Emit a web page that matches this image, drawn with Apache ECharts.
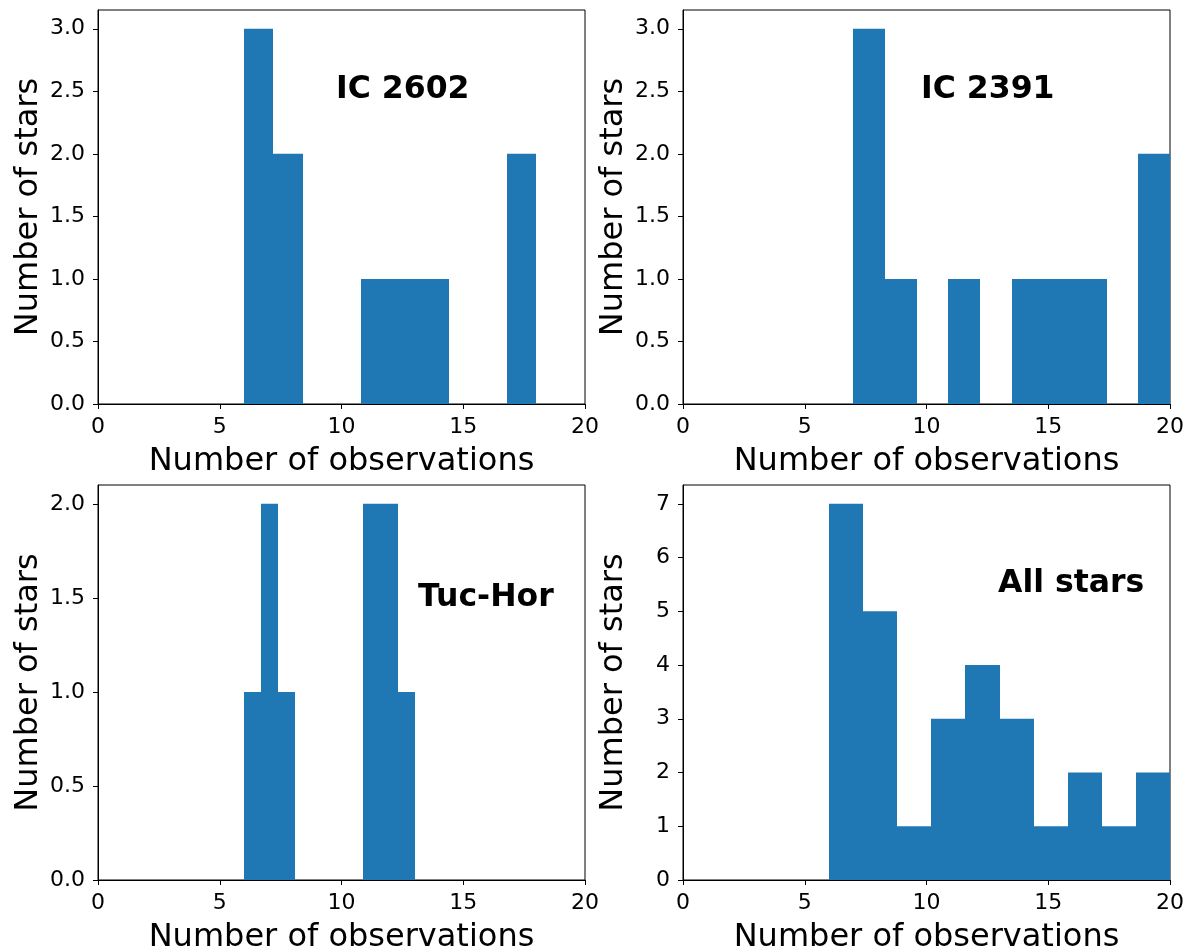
<!DOCTYPE html>
<html>
<head>
<meta charset="utf-8">
<script src="https://cdn.jsdelivr.net/npm/echarts@6/dist/echarts.min.js"></script>
<style>
  html, body { margin: 0; padding: 0; background: #fff; }
  #chart { width: 1188px; height: 952px; }
</style>
</head>
<body>
<div id="chart"></div>
<script>
// histogram bin edges and counts per panel
const ic2602Edges = [6, 7.2, 8.4, 9.6, 10.8, 12, 13.2, 14.4, 15.6, 16.8, 18]
const ic2602Counts = [3, 2, 0, 0, 1, 1, 1, 0, 0, 2]
const ic2391Edges = [7, 8.3, 9.6, 10.9, 12.2, 13.5, 14.8, 16.1, 17.4, 18.7, 20]
const ic2391Counts = [3, 1, 0, 1, 0, 1, 1, 1, 0, 2]
const tucHorEdges = [6, 6.7, 7.4, 8.1, 8.8, 9.5, 10.2, 10.9, 11.6, 12.3, 13]
const tucHorCounts = [1, 2, 1, 0, 0, 0, 0, 2, 2, 1]
const allEdges = [6, 7.4, 8.8, 10.2, 11.6, 13, 14.4, 15.8, 17.2, 18.6, 20]
const allCounts = [7, 5, 1, 3, 4, 3, 1, 2, 1, 2]

const xTicks = [0, 5, 10, 15, 20]
const yTicks3 = [0, 0.5, 1, 1.5, 2, 2.5, 3]
const yTicks2 = [0, 0.5, 1, 1.5, 2]
const yTicks7 = [0, 1, 2, 3, 4, 5, 6, 7]

const panelNames = ['IC 2602', 'IC 2391', 'Tuc-Hor', 'All stars']

const font = 'DejaVu Sans'
const blue = '#1f77b4'

const panels = [
  { edges: ic2602Edges, counts: ic2602Counts, yTicks: yTicks3, yMax: 3.15, dec: 1,
    grid: { left: 98, top: 10, width: 487, height: 394 }, label: [336, 92] },
  { edges: ic2391Edges, counts: ic2391Counts, yTicks: yTicks3, yMax: 3.15, dec: 1,
    grid: { left: 683, top: 10, width: 487, height: 394 }, label: [921, 92] },
  { edges: tucHorEdges, counts: tucHorCounts, yTicks: yTicks2, yMax: 2.1, dec: 1,
    grid: { left: 98, top: 485, width: 487, height: 395 }, label: [418, 600] },
  { edges: allEdges, counts: allCounts, yTicks: yTicks7, yMax: 7.35, dec: 0,
    grid: { left: 683, top: 485, width: 487, height: 395 }, label: [998, 586] },
]

// snap to whole pixels so neighbouring bins join without seams
const renderBin = (params, api) => {
  const p0 = api.coord([api.value(0), 0])
  const p1 = api.coord([api.value(1), api.value(2)])
  const x0 = Math.round(p0[0])
  const x1 = Math.round(p1[0])
  return {
    type: 'rect',
    shape: { x: x0, y: p1[1], width: x1 - x0, height: p0[1] - p1[1] },
    style: { fill: blue },
  }
}

const option = {
  animation: false,
  backgroundColor: '#fff',
  grid: [],
  xAxis: [],
  yAxis: [],
  series: [],
  graphic: [],
}

panels.forEach((p, i) => {
  option.grid.push({
    ...p.grid,
    outerBoundsMode: 'none',
    show: true,
    borderColor: '#000',
    borderWidth: 1,
    backgroundColor: 'transparent',
  })
  option.xAxis.push({
    type: 'value',
    gridIndex: i,
    min: 0,
    max: 20,
    interval: 5,
    name: 'Number of observations',
    nameLocation: 'middle',
    nameGap: 42,
    nameTextStyle: { fontFamily: font, fontSize: 32, color: '#000' },
    axisLine: { show: true, onZero: false, lineStyle: { color: '#000', width: 1 } },
    axisTick: { show: true, length: 5, lineStyle: { color: '#000' }, customValues: xTicks },
    axisLabel: { fontFamily: font, fontSize: 22, color: '#000', margin: 12, customValues: xTicks },
    splitLine: { show: false },
  })
  option.yAxis.push({
    type: 'value',
    gridIndex: i,
    min: 0,
    max: p.yMax,
    name: 'Number of stars',
    nameLocation: 'middle',
    nameGap: 53,
    nameTextStyle: { fontFamily: font, fontSize: 32, color: '#000' },
    axisLine: { show: true, onZero: false, lineStyle: { color: '#000', width: 1 } },
    axisTick: { show: true, length: 5, lineStyle: { color: '#000' }, customValues: p.yTicks },
    axisLabel: {
      fontFamily: font, fontSize: 22, color: '#000', margin: 13,
      customValues: p.yTicks,
      formatter: v => v.toFixed(p.dec),
    },
    splitLine: { show: false },
  })
  option.series.push({
    type: 'custom',
    xAxisIndex: i,
    yAxisIndex: i,
    renderItem: renderBin,
    encode: { x: [0, 1], y: 2 },
    data: p.counts.map((c, k) => [p.edges[k], p.edges[k + 1], c]),
  })
  option.graphic.push({
    type: 'text',
    left: p.label[0],
    top: p.label[1] - 18,
    style: { text: panelNames[i], fontFamily: font, fontSize: 31.5, fontWeight: 'bold', fill: '#000' },
  })
})

const chart = echarts.init(document.getElementById('chart'))
chart.setOption(option)
</script>
</body>
</html>
